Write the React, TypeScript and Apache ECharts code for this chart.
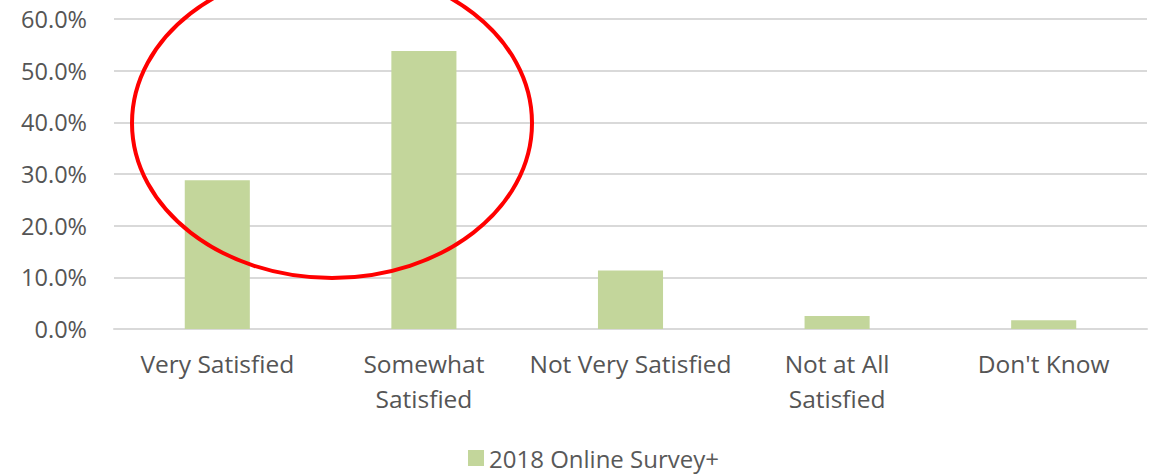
import React, { useEffect, useRef } from "react";
import * as echarts from "echarts";

const categories = ["Very Satisfied", "Somewhat\nSatisfied", "Not Very Satisfied", "Not at All\nSatisfied", "Don't Know"];
const seriesName = "2018 Online Survey+";
const values = [28.8, 53.8, 11.3, 2.5, 1.7];
const yTicks = { min: 0, max: 60, interval: 10 };

export default function App() {
  const ref = useRef<HTMLDivElement>(null);
  useEffect(() => {
    if (!ref.current) return;
    const chart = echarts.init(ref.current, null, { renderer: "svg" });
    const font = "Open Sans";
    chart.setOption({
      animation: false,
      backgroundColor: "#ffffff",
      grid: { left: 114, right: 16, top: 19, bottom: 146, containLabel: false },
      legend: {
        bottom: 0,
        left: 463,
        itemWidth: 16,
        itemHeight: 16,
        itemGap: 8,
        icon: "rect",
        textStyle: { fontFamily: font, fontSize: 24, color: "#595959" },
        data: [seriesName],
      },
      xAxis: {
        type: "category",
        data: categories,
        axisLine: { show: true, lineStyle: { color: "#d9d9d9", width: 2 } },
        axisTick: { show: false },
        axisLabel: {
          interval: 0,
          margin: 17,
          fontFamily: font,
          fontSize: 24.5,
          lineHeight: 35,
          color: "#555555",
        },
      },
      yAxis: {
        type: "value",
        min: yTicks.min,
        max: yTicks.max,
        interval: yTicks.interval,
        axisLine: { show: false },
        axisTick: { show: false },
        splitLine: { lineStyle: { color: "#d9d9d9", width: 2 } },
        axisLabel: {
          margin: 27,
          fontFamily: font,
          fontSize: 23.5,
          color: "#555555",
          formatter: (v: number) => v.toFixed(1) + "%",
        },
      },
      series: [
        {
          name: seriesName,
          type: "bar",
          data: values,
          barWidth: "31.5%",
          itemStyle: { color: "#c3d69b" },
        },
      ],
      graphic: [
        {
          type: "ellipse",
          shape: { cx: 332, cy: 123, rx: 200, ry: 155 },
          style: { fill: "none", stroke: "#ff0000", lineWidth: 4 },
          z: 100,
        },
      ],
    });
    return () => chart.dispose();
  }, []);
  return (
    <div
      ref={ref}
      style={{ position: "absolute", left: 0, top: 0, width: 1163, height: 475 }}
    />
  );
}
